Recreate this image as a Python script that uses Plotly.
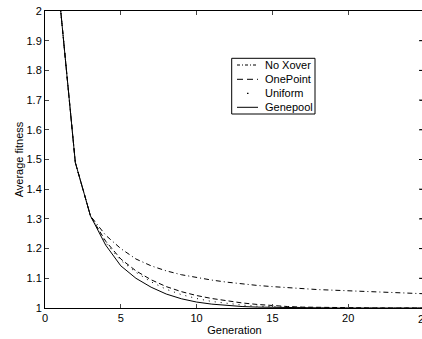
import plotly.graph_objects as go

generations = list(range(1, 26))
no_xover = [2.02, 1.49, 1.31, 1.245, 1.20, 1.165, 1.142, 1.125, 1.112, 1.102, 1.094, 1.087,
            1.081, 1.076, 1.072, 1.068, 1.065, 1.062, 1.060, 1.058, 1.056, 1.054, 1.052, 1.050, 1.048]
one_point = [2.02, 1.49, 1.31, 1.225, 1.165, 1.125, 1.095, 1.072, 1.055, 1.042, 1.032, 1.024,
             1.017, 1.012, 1.008, 1.005, 1.003, 1.002, 1.001, 1.0, 1.0, 1.0, 1.0, 1.0, 1.0]
uniform = [2.02, 1.49, 1.31, 1.22, 1.16, 1.12, 1.088, 1.063, 1.045, 1.032, 1.022, 1.015,
           1.010, 1.006, 1.004, 1.002, 1.001, 1.0, 1.0, 1.0, 1.0, 1.0, 1.0, 1.0, 1.0]
genepool = [2.02, 1.49, 1.31, 1.212, 1.142, 1.100, 1.070, 1.047, 1.031, 1.020, 1.013, 1.008,
            1.005, 1.003, 1.002, 1.001, 1.0, 1.0, 1.0, 1.0, 1.0, 1.0, 1.0, 1.0, 1.0]

series_names = ["No Xover", "OnePoint", "Uniform", "Genepool"]
series_vals = [no_xover, one_point, uniform, genepool]
series_dash = ["5px,3px,1px,3px", "5px,3px", "1px,5px", "solid"]

x_ticks = [0, 5, 10, 15, 20, 25]
y_ticks = [1, 1.1, 1.2, 1.3, 1.4, 1.5, 1.6, 1.7, 1.8, 1.9, 2]
y_tick_text = ["1", "1.1", "1.2", "1.3", "1.4", "1.5", "1.6", "1.7", "1.8", "1.9", "2"]

FONT = "Liberation Sans, Arial, Helvetica, sans-serif"
font = dict(family=FONT, size=11, color="black")

fig = go.Figure()
for name, vals, dash in zip(series_names, series_vals, series_dash):
    fig.add_trace(go.Scatter(x=generations, y=vals, mode="lines", name=name,
                             line=dict(color="black", width=1, dash=dash), showlegend=False))

# Plot area spans 45..424 px horizontally (figure slightly wider than the window, as in the reference)
W = 424
L = 45
PW = W - L


def px(x):
    return (x - L) / PW


def py(y):
    return (308 - y) / 297


shapes = [dict(type="rect", xref="paper", yref="paper", x0=px(231.7), x1=px(315), y0=py(114), y1=py(58.3),
               line=dict(color="black", width=1), fillcolor="white", layer="above")]
annotations = []
row_y = [65, 79.3, 93.3, 107.3]
legend_dash = ["3px,2px,1px,2px", "6px,4px", None, "solid"]
for name, ry, dash in zip(series_names, row_y, legend_dash):
    if dash is None:
        shapes.append(dict(type="line", xref="paper", yref="paper", x0=px(247), x1=px(248.5),
                           y0=py(ry), y1=py(ry), line=dict(color="black", width=1.2), layer="above"))
    else:
        shapes.append(dict(type="line", xref="paper", yref="paper", x0=px(237), x1=px(258),
                           y0=py(ry), y1=py(ry), line=dict(color="black", width=1, dash=dash), layer="above"))
    annotations.append(dict(text=name, xref="paper", yref="paper", x=px(263), y=py(ry),
                            xanchor="left", yanchor="middle", showarrow=False, font=font))

# Right-hand tick marks (the right border itself falls just outside the window)
for yt in y_ticks[1:-1]:
    shapes.append(dict(type="line", xref="paper", yref="y", x0=px(419), x1=px(424), y0=yt, y1=yt,
                       line=dict(color="black", width=1)))

# Last x tick label, cut by the window edge as in the reference
annotations.append(dict(text=str(x_ticks[-1]), xref="x", yref="paper", x=x_ticks[-1], y=py(319),
                        xanchor="center", yanchor="middle", showarrow=False, font=font))

fig.update_layout(
    template="none",
    width=W, height=339,
    margin=dict(l=L, r=0, t=11, b=31),
    paper_bgcolor="white", plot_bgcolor="white",
    font=font,
    showlegend=False,
    shapes=shapes,
    annotations=annotations,
)
fig.update_xaxes(range=[0, 25], tickvals=x_ticks[:-1], ticks="inside", ticklen=4,
                 showline=True, linecolor="black", linewidth=1, mirror="ticks",
                 showgrid=False, zeroline=False, automargin=False,
                 title=dict(text="Generation", standoff=3, font=font))
fig.update_yaxes(range=[1, 2], tickvals=y_ticks, ticktext=y_tick_text, ticks="inside", ticklen=4,
                 showline=True, linecolor="black", linewidth=1, mirror="ticks",
                 showgrid=False, zeroline=False, automargin=False,
                 title=dict(text="Average fitness", standoff=0, font=font))

fig.write_html("out.html", config={"displayModeBar": False},
               post_script="document.body.style.margin='0';document.body.style.overflow='hidden';"
                           "document.documentElement.style.overflow='hidden';")
